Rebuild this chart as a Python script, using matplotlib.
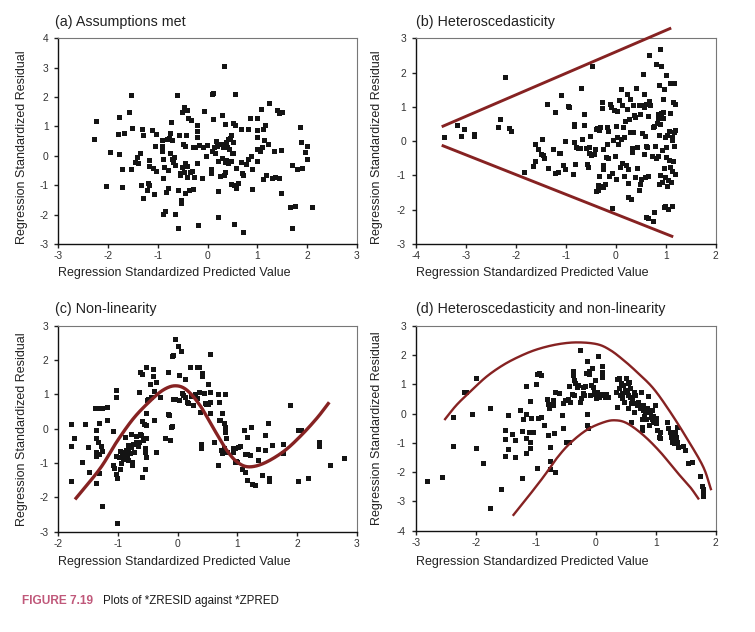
import numpy as np
import matplotlib
matplotlib.use("Agg")
import matplotlib.pyplot as plt

plt.rcParams['font.family'] = ['Liberation Sans', 'DejaVu Sans']
plt.rcParams['axes.unicode_minus'] = False

# ---------------- data ----------------
a_x = [-2.28,-2.25,-2.04,-1.96,-1.77,-1.80,-1.77,-1.72,-1.71,-1.67,
       -1.57,-1.54,-1.54,-1.51,-1.46,-1.41,-1.39,-1.36,-1.32,-1.30,
       -1.33,-1.30,-1.22,-1.20,-1.18,-1.17,-1.18,-1.12,-1.09,-1.08,
       -1.06,-1.04,-1.04,-0.92,-0.91,-0.91,-0.89,-0.89,-0.87,-0.90,
       -0.86,-0.84,-0.82,-0.80,-0.79,-0.77,-0.75,-0.74,-0.75,-0.72,
       -0.71,-0.69,-0.67,-0.66,-0.65,-0.62,-0.60,-0.59,-0.58,-0.56,
       -0.55,-0.54,-0.53,-0.52,-0.51,-0.50,-0.48,-0.47,-0.45,-0.45,
       -0.45,-0.43,-0.42,-0.42,-0.41,-0.39,-0.37,-0.36,-0.33,-0.31,
       -0.30,-0.29,-0.27,-0.25,-0.22,-0.22,-0.22,-0.21,-0.20,-0.18,
       -0.12,-0.10,-0.08,-0.04,-0.02,0.07,0.08,0.10,0.10,0.11,
       0.12,0.14,0.16,0.18,0.19,0.21,0.21,0.22,0.25,0.27,
       0.29,0.30,0.32,0.33,0.34,0.35,0.35,0.36,0.37,0.38,
       0.40,0.41,0.42,0.44,0.45,0.47,0.48,0.48,0.49,0.51,
       0.52,0.52,0.53,0.54,0.55,0.56,0.57,0.57,0.61,0.67,
       0.68,0.69,0.71,0.72,0.77,0.81,0.82,0.86,0.87,0.90,
       0.90,0.99,0.99,0.99,0.99,0.99,1.05,1.07,1.10,1.12,
       1.12,1.14,1.16,1.18,1.21,1.24,1.29,1.34,1.36,1.40,
       1.43,1.44,1.47,1.48,1.49,1.66,1.69,1.70,1.75,1.80,
       1.85,1.88,1.91,1.97,2.00,2.01,2.11]
a_y = [0.585,1.17,-1.03,0.14,1.33,0.73,0.05,-1.07,-0.46,0.77,
       1.48,2.07,-0.46,0.96,-0.22,-0.05,-0.23,0.11,0.91,0.70,
       -1.0,-1.42,-1.16,-0.92,-0.98,-0.15,-0.33,0.87,-0.42,-1.31,
       0.33,-0.53,0.74,0.34,0.16,0.55,-0.12,-0.74,-0.38,-1.98,
       -1.88,-1.23,0.57,-0.48,-1.11,0.62,0.79,1.16,0.11,-0.11,
       0.54,-0.20,-0.03,-0.31,-1.97,2.07,-1.16,-2.44,0.72,-0.66,
       -0.57,-1.62,-1.50,1.50,-0.37,0.39,1.66,-0.55,0.33,-0.25,
       -1.26,0.72,-0.33,1.56,-0.71,1.29,-1.15,-0.55,1.21,-0.5,
       -1.12,0.31,-0.73,0.30,1.04,0.86,-0.23,0.63,-2.36,0.36,
       -0.74,0.31,1.53,0.0,0.38,-0.45,-0.60,0.16,2.09,2.13,
       1.25,0.31,0.09,0.49,0.34,-1.19,-2.07,-0.16,-0.67,0.39,
       -0.07,1.40,0.31,-0.64,3.07,-0.20,-0.56,1.08,0.46,-0.15,
       0.31,-0.25,0.57,0.22,0.61,0.72,-0.96,-0.19,0.11,0.47,
       1.11,0.09,-1.00,-2.31,2.12,1.05,-0.40,-1.08,-0.91,-0.20,
       0.90,-0.60,-0.65,-2.58,-0.28,-0.12,0.91,1.28,-0.02,-0.46,
       -1.12,1.28,0.88,0.64,0.23,-0.19,0.18,1.61,0.29,0.91,
       -0.79,0.54,1.06,-0.64,0.40,1.81,-0.75,0.18,-0.72,1.56,
       -0.77,1.45,0.20,-1.25,1.49,-1.75,-2.44,-0.31,-1.70,-0.46,
       0.97,0.47,-0.42,0.14,0.35,-0.12,-1.74]

b_x = [-3.43,-3.17,-3.09,-3.04,-2.83,-2.83,-2.35,-2.32,-2.21,-2.13,
       -2.09,-1.83,-1.65,-1.62,-1.61,-1.56,-1.49,-1.47,-1.45,-1.43,
       -1.37,-1.35,-1.25,-1.21,-1.21,-1.16,-1.14,-1.11,-1.09,-1.05,
       -1.01,-1.02,-0.95,-0.93,-0.85,-0.83,-0.83,-0.83,-0.81,-0.79,
       -0.76,-0.71,-0.69,-0.67,-0.64,-0.63,-0.60,-0.57,-0.56,-0.53,
       -0.53,-0.52,-0.49,-0.47,-0.43,-0.42,-0.40,-0.40,-0.38,-0.36,
       -0.35,-0.34,-0.33,-0.31,-0.29,-0.27,-0.27,-0.25,-0.25,-0.25,
       -0.25,-0.22,-0.20,-0.17,-0.17,-0.15,-0.15,-0.14,-0.11,-0.09,
       -0.08,-0.07,-0.05,-0.03,-0.02,0.0,0.01,0.02,0.03,0.05,
       0.06,0.08,0.10,0.11,0.12,0.13,0.15,0.16,0.17,0.19,
       0.20,0.22,0.23,0.24,0.25,0.25,0.27,0.28,0.29,0.30,
       0.32,0.33,0.34,0.35,0.36,0.39,0.39,0.41,0.42,0.43,
       0.46,0.47,0.48,0.49,0.51,0.53,0.54,0.55,0.56,0.57,
       0.57,0.59,0.59,0.60,0.61,0.61,0.63,0.64,0.65,0.65,
       0.67,0.67,0.69,0.72,0.75,0.75,0.76,0.77,0.79,0.80,
       0.81,0.83,0.84,0.85,0.85,0.86,0.86,0.87,0.89,0.89,
       0.89,0.91,0.91,0.93,0.93,0.94,0.95,0.95,0.96,0.97,
       0.97,0.98,0.99,0.99,1.0,1.01,1.01,1.02,1.03,1.04,
       1.05,1.06,1.07,1.08,1.09,1.09,1.11,1.12,1.12,1.13,
       1.13,1.14,1.15,1.16,1.17,1.17,1.19,1.19,1.19]
b_y = [0.13,0.46,0.16,0.34,0.22,0.16,0.40,0.66,1.87,0.38,
       0.30,-0.91,-0.72,-0.59,-0.07,-0.22,-0.38,0.07,-0.41,-0.50,
       1.08,-0.79,-0.24,0.86,-0.93,-0.89,-0.36,-0.34,1.35,-0.71,
       0.01,-0.82,1.03,1.0,-0.97,0.51,0.44,-0.03,-0.68,-0.18,
       -0.21,-0.20,1.54,0.07,0.47,0.79,-0.2,-0.67,-0.76,-0.17,
       -0.36,0.14,-0.39,2.19,-0.37,-0.22,0.36,-1.44,0.37,-1.42,
       -1.29,0.33,-1.02,0.41,-1.32,0.97,1.14,-0.24,-0.71,-0.81,
       -1.34,-1.25,-0.45,-0.08,0.42,-0.50,0.31,-1.01,1.07,1.00,
       -0.92,-1.95,0.03,0.91,-0.43,0.43,-1.11,0.88,0.12,-0.08,
       1.20,-0.74,1.51,0.05,1.05,-0.65,0.40,0.12,-1.02,0.60,
       -0.70,0.94,1.37,-1.21,-1.62,-0.81,0.65,0.28,1.24,-1.68,
       -0.32,-0.19,1.04,0.28,0.76,0.70,-1.04,1.54,-0.78,-0.16,
       1.04,-1.42,0.80,-1.26,-1.11,0.25,1.04,1.96,1.37,-0.37,
       1.00,-1.06,0.14,-2.20,-0.14,1.08,-0.17,0.72,-1.02,-2.25,
       2.50,1.17,1.06,-0.44,0.40,-2.34,-2.08,0.44,-0.13,-0.48,
       2.24,0.53,0.78,-0.44,0.67,1.65,-1.24,0.18,0.50,2.69,
       -1.00,2.19,0.81,-1.18,-0.25,0.67,1.23,0.85,1.51,-1.91,
       -0.79,0.12,-1.05,-1.89,1.94,-0.17,-0.45,-1.31,0.19,-1.99,
       -1.14,-0.55,0.29,-0.74,1.71,0.83,-1.18,-0.87,0.03,-1.90,
       0.11,-0.58,1.15,-0.14,1.71,0.28,1.07,-0.95,0.33]
b_upper_x = [-3.48, 1.11]
b_upper_y = [0.42, 3.30]
b_lower_x = [-3.48, 1.15]
b_lower_y = [-0.12, -2.79]

c_x = [-1.79,-1.79,-1.79,-1.74,-1.61,-1.56,-1.51,-1.49,-1.38,-1.37,
       -1.37,-1.36,-1.37,-1.36,-1.34,-1.32,-1.32,-1.32,-1.31,-1.28,
       -1.27,-1.26,-1.26,-1.19,-1.19,-1.09,-1.08,-1.07,-1.04,-1.03,
       -1.03,-1.03,-1.02,-1.02,-0.98,-0.96,-0.96,-0.95,-0.94,-0.92,
       -0.91,-0.89,-0.87,-0.85,-0.84,-0.84,-0.83,-0.80,-0.79,-0.78,
       -0.77,-0.77,-0.75,-0.73,-0.72,-0.70,-0.69,-0.67,-0.65,-0.64,
       -0.63,-0.63,-0.61,-0.59,-0.59,-0.59,-0.58,-0.57,-0.54,-0.54,
       -0.53,-0.54,-0.53,-0.53,-0.53,-0.53,-0.52,-0.49,-0.47,-0.44,
       -0.41,-0.41,-0.40,-0.39,-0.36,-0.36,-0.30,-0.22,-0.17,-0.16,
       -0.14,-0.12,-0.11,-0.10,-0.10,-0.07,-0.07,-0.04,-0.04,0.01,
       0.02,0.02,0.06,0.08,0.09,0.12,0.13,0.15,0.18,0.20,
       0.22,0.25,0.29,0.32,0.33,0.35,0.36,0.38,0.39,0.39,
       0.40,0.41,0.44,0.45,0.47,0.50,0.51,0.54,0.54,0.55,
       0.55,0.61,0.67,0.68,0.69,0.69,0.71,0.72,0.74,0.75,
       0.77,0.78,0.79,0.79,0.80,0.80,0.81,0.83,0.92,0.93,
       0.96,0.96,0.98,0.99,1.01,1.04,1.08,1.11,1.12,1.12,
       1.16,1.16,1.17,1.22,1.23,1.25,1.29,1.34,1.34,1.41,
       1.46,1.47,1.52,1.53,1.53,1.58,1.76,1.76,1.89,2.01,
       2.01,2.07,2.18,2.37,2.37,2.55,2.79]
c_y = [0.14,-0.50,-1.51,-0.26,-0.96,0.14,-0.54,-1.25,0.61,-0.04,
       -0.28,-0.69,-0.79,-1.59,-0.40,0.61,0.16,-1.28,-0.74,-0.51,
       0.59,-0.66,-2.24,0.64,0.25,-0.07,-1.06,-1.15,-0.79,1.14,
       0.93,-1.33,-1.43,-2.76,-0.82,-0.64,-1.16,-1.01,-0.77,-0.67,
       -0.89,-0.23,-0.62,-0.78,-0.57,-0.90,-0.48,-0.72,-0.53,-0.15,
       -0.96,-1.06,-0.44,-0.67,-0.46,-0.20,-0.40,-0.50,1.06,-0.38,
       1.64,-0.15,-0.18,1.59,0.22,-1.40,-0.33,0.13,-0.67,-0.56,
       -0.81,-1.16,-0.28,0.45,0.11,1.79,0.83,0.86,1.29,0.93,
       1.74,1.54,0.25,1.10,1.35,-0.69,0.93,-0.26,1.66,0.42,
       0.40,-0.34,0.04,2.13,0.09,2.15,0.86,2.60,0.86,2.42,
       1.56,0.83,2.27,1.03,0.98,0.93,1.45,0.77,0.74,1.79,
       0.96,0.69,1.01,1.81,0.88,1.06,1.81,0.48,-0.45,-0.55,
       1.63,1.53,1.03,0.74,0.73,1.29,0.71,0.47,1.08,0.79,
       2.18,-0.38,1.0,-1.06,0.24,0.79,0.24,-0.62,0.45,-0.72,
       0.17,-0.57,1.0,-0.02,0.06,-0.11,-0.26,-0.67,-0.67,-0.55,
       -0.55,-0.96,-0.93,-0.98,-0.53,-0.50,-1.16,-0.03,-1.25,-0.74,
       -0.25,-1.48,-0.75,-0.77,0.04,-1.62,-1.65,-0.59,-0.90,-1.36,
       -0.62,-0.18,0.17,-1.45,-1.52,-0.48,-0.46,-0.72,0.68,-1.51,
       -0.04,-0.04,-1.45,-0.38,-0.49,-1.06,-0.84]
c_curve_x = [-1.72,-1.30,-1.02,-0.74,-0.46,-0.24,-0.04,0.15,0.37,0.60,
             0.82,0.99,1.18,1.44,1.77,2.05,2.33,2.54]
c_curve_y = [-2.06,-1.16,-0.38,0.30,0.81,1.13,1.25,1.13,0.69,0.01,
             -0.62,-0.96,-1.11,-1.01,-0.67,-0.23,0.30,0.77]

d_x = [-2.81,-2.56,-2.38,-2.38,-2.19,-2.16,-2.06,-1.99,-1.99,-1.88,
       -1.76,-1.76,-1.58,-1.51,-1.51,-1.51,-1.47,-1.47,-1.40,-1.34,
       -1.34,-1.27,-1.23,-1.23,-1.22,-1.16,-1.16,-1.16,-1.16,-1.11,
       -1.09,-1.09,-1.09,-1.08,-1.04,-0.99,-0.98,-0.98,-0.97,-0.94,
       -0.91,-0.91,-0.87,-0.81,-0.80,-0.79,-0.78,-0.76,-0.76,-0.76,
       -0.72,-0.72,-0.69,-0.68,-0.68,-0.62,-0.56,-0.55,-0.55,-0.51,
       -0.50,-0.47,-0.44,-0.44,-0.43,-0.39,-0.38,-0.38,-0.37,-0.36,
       -0.34,-0.32,-0.30,-0.27,-0.26,-0.25,-0.22,-0.21,-0.19,-0.18,
       -0.16,-0.15,-0.14,-0.14,-0.13,-0.12,-0.11,-0.09,-0.08,-0.06,
       -0.05,-0.03,-0.02,-0.01,0.01,0.02,0.04,0.06,0.08,0.10,
       0.11,0.11,0.13,0.16,0.17,0.19,0.21,0.33,0.35,0.36,
       0.38,0.39,0.41,0.42,0.43,0.44,0.46,0.47,0.49,0.51,
       0.52,0.53,0.54,0.54,0.56,0.57,0.57,0.58,0.59,0.60,
       0.63,0.64,0.66,0.67,0.68,0.71,0.73,0.74,0.76,0.77,
       0.77,0.77,0.78,0.79,0.81,0.82,0.83,0.85,0.87,0.88,
       0.89,0.91,0.92,0.93,0.94,0.95,0.96,0.97,0.99,1.00,
       1.01,1.02,1.06,1.07,1.07,1.18,1.20,1.24,1.25,1.27,
       1.28,1.29,1.31,1.32,1.34,1.35,1.36,1.37,1.46,1.48,
       1.54,1.60,1.73,1.77,1.78,1.78,1.78]
d_y = [-2.29,-2.16,-0.11,-1.10,0.75,0.75,-0.02,1.22,-1.17,-1.68,
       0.18,-3.21,-2.58,-0.55,-0.87,-1.45,-0.05,-1.22,-0.70,-0.90,
       -1.50,0.12,-0.59,-2.19,-0.19,0.95,-0.03,-0.85,-1.36,-0.62,
       0.44,-0.96,-1.17,-0.14,-0.64,1.0,1.35,-1.87,-0.16,1.39,
       1.32,-0.13,-0.39,0.50,0.33,-0.73,0.18,-1.13,-1.61,-1.89,
       0.48,0.29,-0.68,-1.99,0.72,0.69,-0.05,-0.51,0.35,0.46,
       -0.98,0.50,-0.96,0.95,0.40,0.68,1.32,1.47,1.14,0.63,
       1.03,0.92,0.97,0.40,2.17,0.52,0.69,0.89,0.63,0.95,
       1.40,-0.03,1.80,-0.39,-0.51,1.34,1.45,0.63,0.97,1.57,
       0.89,0.75,1.13,0.66,0.52,0.75,1.96,0.58,0.66,1.63,
       1.43,1.26,0.63,0.58,0.66,0.55,0.58,0.72,0.23,1.18,
       0.86,1.20,0.63,1.03,0.52,0.69,0.97,0.40,0.80,1.20,
       0.75,1.03,0.63,0.18,1.09,0.58,0.86,-0.28,0.35,0.52,
       0.75,0.04,0.63,0.35,0.29,0.40,0.29,0.18,0.72,-0.19,
       -0.45,-0.56,0.12,0.29,-0.07,0.04,-0.19,0.18,0.61,0.06,
       -0.39,0.06,-0.11,-0.19,0.12,-0.28,-0.07,-0.22,0.29,-0.33,
       -0.16,-0.56,-0.79,-0.62,-0.85,-0.28,-0.51,-0.62,-0.79,-0.96,
       -0.68,-0.85,-1.02,-0.62,-0.79,-0.96,-0.45,-1.13,-1.10,-1.25,
       -1.70,-1.64,-2.13,-2.46,-2.58,-2.73,-2.80]
d_upper_x = [-2.51,-2.32,-2.09,-1.82,-1.54,-1.26,-0.98,-0.65,-0.32,0.02,
             0.24,0.46,0.68,0.96,1.24,1.52,1.79,1.92]
d_upper_y = [-0.19,0.29,0.75,1.26,1.66,1.96,2.19,2.36,2.43,2.37,
             2.17,1.83,1.43,0.86,0.06,-0.85,-1.81,-2.58]
d_lower_x = [-1.37,-1.15,-0.87,-0.65,-0.43,-0.15,0.13,0.32,0.52,0.79,
             1.07,1.35,1.57,1.71]
d_lower_y = [-3.46,-2.90,-2.16,-1.53,-1.02,-0.56,-0.30,-0.23,-0.33,-0.73,
             -1.30,-1.99,-2.50,-2.90]

titles = ["(a) Assumptions met", "(b) Heteroscedasticity",
          "(c) Non-linearity", "(d) Heteroscedasticity and non-linearity"]
xlabel = "Regression Standardized Predicted Value"
ylabel = "Regression Standardized Residual"
a_xticks = [-3, -2, -1, 0, 1, 2, 3]; a_yticks = [-3, -2, -1, 0, 1, 2, 3, 4]
b_xticks = [-4, -3, -2, -1, 0, 1, 2]; b_yticks = [-3, -2, -1, 0, 1, 2, 3]
c_xticks = [-2, -1, 0, 1, 2, 3]; c_yticks = [-3, -2, -1, 0, 1, 2, 3]
d_xticks = [-3, -2, -1, 0, 1, 2]; d_yticks = [-4, -3, -2, -1, 0, 1, 2, 3]


def catmull_rom(xs, ys, n=24):
    P = np.column_stack([xs, ys]).astype(float)
    P = np.vstack([2 * P[0] - P[1], P, 2 * P[-1] - P[-2]])
    t = np.linspace(0, 1, n, endpoint=False)[:, None]
    out = []
    for i in range(1, len(P) - 2):
        p0, p1, p2, p3 = P[i - 1], P[i], P[i + 1], P[i + 2]
        out.append(0.5 * ((2 * p1) + (-p0 + p2) * t
                          + (2 * p0 - 5 * p1 + 4 * p2 - p3) * t ** 2
                          + (-p0 + 3 * p1 - 3 * p2 + p3) * t ** 3))
    out.append(P[-2][None, :])
    S = np.vstack(out)
    return S[:, 0], S[:, 1]


W, H = 755, 632
fig = plt.figure(figsize=(W / 100, H / 100), dpi=100)
fig.patch.set_facecolor('white')


def make_ax(l, r, t, b):
    return fig.add_axes([l / W, 1 - b / H, (r - l) / W, (b - t) / H])


ax_a = make_ax(58.3, 356.7, 38.3, 244.0)
ax_b = make_ax(415.7, 715.7, 38.3, 244.0)
ax_c = make_ax(58.3, 356.7, 325.7, 531.7)
ax_d = make_ax(415.7, 715.7, 325.7, 530.7)

RED = '#862222'
MK = dict(marker='s', linestyle='none', markersize=3.6, color='#141414',
          markeredgewidth=0)
TXT = '#222222'

specs = [
    (ax_a, a_x, a_y, a_xticks, a_yticks, titles[0], -0.102, 0.47, -0.141),
    (ax_b, b_x, b_y, b_xticks, b_yticks, titles[1], -0.108, 0.47, -0.141),
    (ax_c, c_x, c_y, c_xticks, c_yticks, titles[2], -0.102, 0.50, -0.146),
    (ax_d, d_x, d_y, d_xticks, d_yticks, titles[3], -0.108, 0.50, -0.151),
]

for ax, xs, ys, xt, yt, title, ylx, yly, xly in specs:
    ax.plot(xs, ys, **MK, zorder=3)
    ax.set_xlim(xt[0], xt[-1])
    ax.set_ylim(yt[0], yt[-1])
    ax.set_xticks(xt)
    ax.set_yticks(yt)
    ax.set_xticklabels([str(v) for v in xt])
    ax.set_yticklabels([str(v) for v in yt])
    ax.tick_params(direction='out', length=3, width=1, labelsize=7.4,
                   labelcolor='#333333', color='#222222')
    ax.tick_params(axis='x', pad=2)
    ax.tick_params(axis='y', pad=4)
    for s in ('left', 'bottom'):
        ax.spines[s].set_color('#111111')
        ax.spines[s].set_linewidth(1.0)
    for s in ('top', 'right'):
        ax.spines[s].set_color('#777777')
        ax.spines[s].set_linewidth(0.8)
    ax.set_ylabel(ylabel, fontsize=9, color=TXT)
    ax.yaxis.set_label_coords(ylx, yly)
    ax.set_xlabel(xlabel, fontsize=9, color=TXT, loc='left', va='center')
    ax.xaxis.set_label_coords(0.0, xly)
    ax.text(-0.01 if ax in (ax_a, ax_c) else 0.0,
            1.08, title, transform=ax.transAxes, fontsize=10.3,
            color=TXT, ha='left', va='center')

# lines / curves
ax_b.plot(b_upper_x, b_upper_y, color=RED, lw=2.1, clip_on=False, zorder=4,
          solid_capstyle='butt')
ax_b.plot(b_lower_x, b_lower_y, color=RED, lw=2.1, clip_on=False, zorder=4,
          solid_capstyle='butt')

cx, cy = catmull_rom(c_curve_x, c_curve_y)
ax_c.plot(cx, cy, color=RED, lw=2.4, zorder=4, solid_capstyle='butt')

ux, uy = catmull_rom(d_upper_x, d_upper_y)
ax_d.plot(ux, uy, color=RED, lw=1.7, zorder=4, clip_on=False)
lx, ly = catmull_rom(d_lower_x, d_lower_y)
ax_d.plot(lx, ly, color=RED, lw=1.7, zorder=4, clip_on=False)

# caption
cap_font = ['Liberation Sans Narrow', 'Liberation Sans', 'DejaVu Sans']
fig.text(21.7 / W, 1 - 600.7 / H, "FIGURE 7.19", color='#c0587a',
         fontsize=8.6, fontweight='bold', family=cap_font, va='center',
         ha='left')
fig.text(103.3 / W, 1 - 600.7 / H, "Plots of *ZRESID against *ZPRED",
         color='#1a1a1a', fontsize=8.3, family=cap_font, va='center',
         ha='left')

fig.savefig('out.png', dpi=100, facecolor='white')
